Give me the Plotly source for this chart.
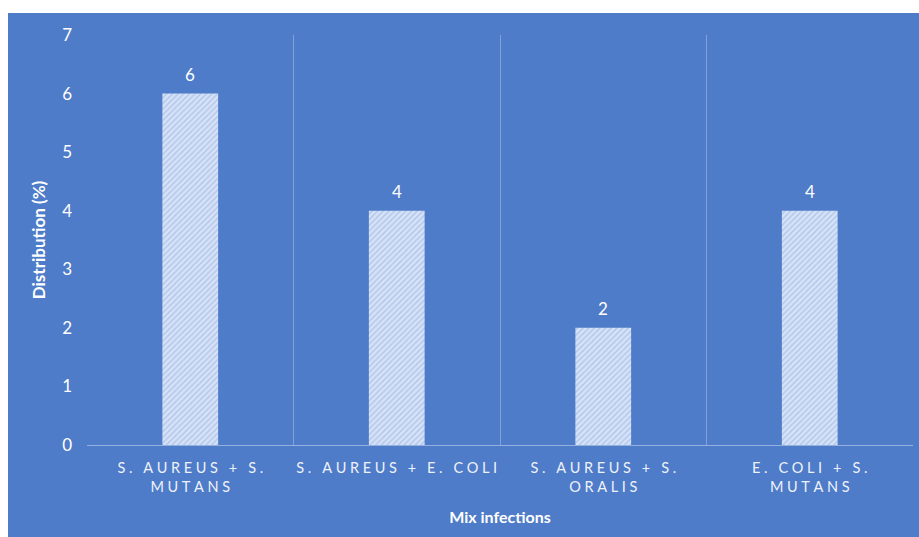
import plotly.graph_objects as go

categories = ["S. AUREUS + S.|MUTANS", "S. AUREUS + E. COLI", "S. AUREUS + S.|ORALIS", "E. COLI + S.|MUTANS"]
values = [6, 4, 2, 4]
y_ticks = [0, 1, 2, 3, 4, 5, 6, 7]

BLUE = "#4E7CC8"
FONT = "Lato"

def spaced(label):
    lines = label.split("|")
    out = []
    for ln in lines:
        out.append("\u2005".join(list(ln)))
    return "<br>".join(out)

ticktext = [spaced(c) for c in categories]

W, H = 919, 537
L, R, T, B = 87, 6, 35, 92
pw, ph = W - L - R, H - T - B

fig = go.Figure()
fig.add_trace(go.Bar(
    x=categories, y=values,
    cliponaxis=False,
    width=0.27,
    marker=dict(color=BLUE, line=dict(width=0),
                pattern=dict(shape="/", fgcolor="white", bgcolor="#AFC5EC", size=4, solidity=0.65)),
))

for c, v in zip(categories, values):
    fig.add_annotation(x=c, y=v, text=str(v), showarrow=False, yshift=19,
                       font=dict(color="white", size=17, family=FONT))

fig.add_shape(type="rect", xref="paper", yref="paper",
              x0=(8 - L) / pw, x1=(W - L + 5) / pw,
              y0=-(H - T - ph + 5) / ph, y1=(T + ph - 13) / ph,
              fillcolor=BLUE, line=dict(width=0), layer="below")

fig.update_layout(
    width=W, height=H,
    margin=dict(l=L, r=R, t=T, b=B, autoexpand=False),
    paper_bgcolor="white", plot_bgcolor="rgba(0,0,0,0)",
    showlegend=False,
    font=dict(family=FONT, color="white"),
)
fig.update_xaxes(
    type="category", tickson="boundaries", tickvals=categories, ticktext=ticktext,
    tickangle=0, automargin=False,
    showgrid=True, gridcolor="rgba(255,255,255,0.3)", gridwidth=1,
    showline=True, linecolor="rgba(255,255,255,0.4)", linewidth=1,
    ticks="", ticklabelstandoff=10, tickfont=dict(size=14.5, color="#EEF2FA", family=FONT),
    title=dict(text="<b>Mix infections</b>", font=dict(size=16, color="white", family=FONT), standoff=17),
    range=[-0.5, 3.5],
)
fig.update_yaxes(
    range=[0, 7], tickvals=y_ticks, showgrid=False, zeroline=False, automargin=False,
    ticks="", ticklabelstandoff=14, tickfont=dict(size=17, color="white", family=FONT),
    title=dict(text="<b>Distribution (%)</b>", font=dict(size=17, color="white", family=FONT), standoff=12),
)

fig.write_html("out.html")
